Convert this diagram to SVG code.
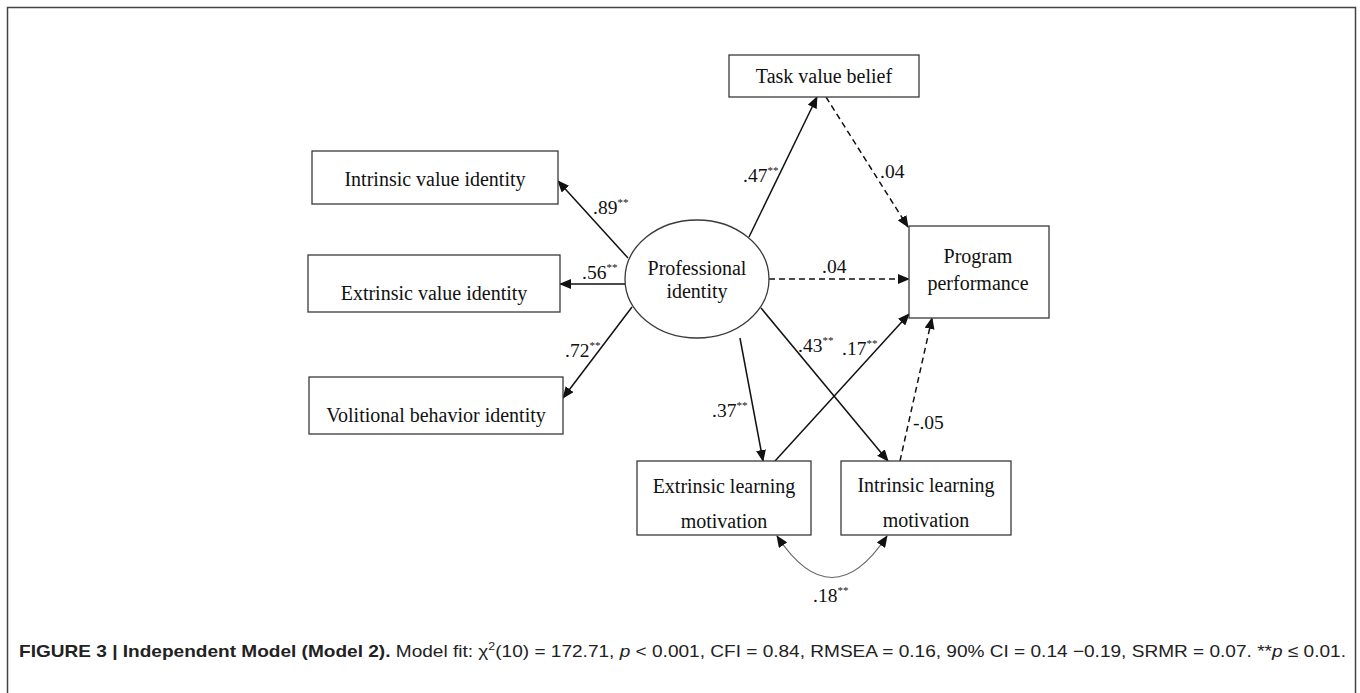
<svg xmlns="http://www.w3.org/2000/svg" width="1360" height="693" viewBox="0 0 1360 693">
<style>
.box{fill:#fff;stroke:#3a3a3a;stroke-width:1.3}
.lbl{font-family:"Liberation Serif","Times New Roman",serif;font-size:20px;fill:#111}
.num{font-family:"Liberation Serif","Times New Roman",serif;font-size:19.5px;fill:#111}
.sup{font-size:11px}
.edge{stroke:#111;stroke-width:1.5;fill:none}
.dash{stroke-dasharray:6 4}
.cap{font-family:"Liberation Sans",Arial,sans-serif;font-size:17px;fill:#222}
</style>
<defs>
<marker id="ah" markerWidth="12" markerHeight="10" refX="11" refY="5" orient="auto" markerUnits="userSpaceOnUse">
<path d="M0,0 L12,5 L0,10 z" fill="#111"/>
</marker>
<marker id="ahs" markerWidth="12" markerHeight="10" refX="1" refY="5" orient="auto" markerUnits="userSpaceOnUse">
<path d="M12,0 L0,5 L12,10 z" fill="#111"/>
</marker>
</defs>
<rect width="1360" height="693" fill="#fff"/>
<path d="M7.5,693 V7.5 H1355.5 V693" fill="none" stroke="#444" stroke-width="1.5"/>

<g id="connectors">
<line class="edge" x1="628" y1="258" x2="558" y2="181" marker-end="url(#ah)"/>
<line class="edge" x1="625" y1="284" x2="560" y2="284" marker-end="url(#ah)"/>
<line class="edge" x1="632" y1="307" x2="563" y2="398" marker-end="url(#ah)"/>
<line class="edge" x1="749" y1="237" x2="817" y2="97" marker-end="url(#ah)"/>
<line class="edge dash" x1="826" y1="97" x2="908" y2="227" marker-end="url(#ah)"/>
<line class="edge dash" x1="769" y1="279" x2="909" y2="279" marker-end="url(#ah)"/>
<line class="edge" x1="740" y1="338" x2="763" y2="461" marker-end="url(#ah)"/>
<line class="edge" x1="761" y1="308" x2="888" y2="461" marker-end="url(#ah)"/>
<line class="edge" x1="775" y1="461" x2="909" y2="314" marker-end="url(#ah)"/>
<line class="edge dash" x1="900" y1="461" x2="932" y2="318" marker-end="url(#ah)"/>
<path d="M777,536 Q832,619 887,536" fill="none" stroke="#666" stroke-width="1.2" marker-start="url(#ahs)" marker-end="url(#ah)"/>
</g>

<g id="labels">
<text class="num" x="593" y="214">.89<tspan class="sup" dy="-8">**</tspan></text>
<text class="num" x="582" y="279">.56<tspan class="sup" dy="-8">**</tspan></text>
<text class="num" x="565" y="357">.72<tspan class="sup" dy="-8">**</tspan></text>
<text class="num" x="743" y="182">.47<tspan class="sup" dy="-8">**</tspan></text>
<text class="num" x="880" y="178">.04</text>
<text class="num" x="822" y="273">.04</text>
<text class="num" x="712" y="417">.37<tspan class="sup" dy="-8">**</tspan></text>
<text class="num" x="798" y="352">.43<tspan class="sup" dy="-8">**</tspan></text>
<text class="num" x="842" y="355">.17<tspan class="sup" dy="-8">**</tspan></text>
<text class="num" x="913" y="429">-.05</text>
<text class="num" x="813" y="602">.18<tspan class="sup" dy="-8">**</tspan></text>
</g>

<g id="node-intrinsic-value">
<rect class="box" x="312" y="151" width="246" height="53"/>
<text class="lbl" x="435" y="186" text-anchor="middle">Intrinsic value identity</text>
</g>
<g id="node-extrinsic-value">
<rect class="box" x="308" y="255" width="252" height="57"/>
<text class="lbl" x="434" y="300" text-anchor="middle">Extrinsic value identity</text>
</g>
<g id="node-volitional">
<rect class="box" x="309" y="377" width="254" height="57"/>
<text class="lbl" x="436" y="422" text-anchor="middle">Volitional behavior identity</text>
</g>
<g id="node-task-value">
<rect class="box" x="729" y="55" width="190" height="42"/>
<text class="lbl" x="824" y="83" text-anchor="middle">Task value belief</text>
</g>
<g id="node-professional">
<ellipse cx="697" cy="279" rx="72" ry="59" fill="#fff" stroke="#3a3a3a" stroke-width="1.3"/>
<text class="lbl" x="697" y="275" text-anchor="middle">Professional</text>
<text class="lbl" x="697" y="298" text-anchor="middle">identity</text>
</g>
<g id="node-program">
<rect class="box" x="909" y="226" width="140" height="92"/>
<text class="lbl" x="978" y="263" text-anchor="middle">Program</text>
<text class="lbl" x="978" y="290" text-anchor="middle">performance</text>
</g>
<g id="node-extrinsic-learning">
<rect class="box" x="637" y="461" width="174" height="74"/>
<text class="lbl" x="724" y="493" text-anchor="middle">Extrinsic learning</text>
<text class="lbl" x="724" y="528" text-anchor="middle">motivation</text>
</g>
<g id="node-intrinsic-learning">
<rect class="box" x="841" y="461" width="170" height="74"/>
<text class="lbl" x="926" y="492" text-anchor="middle">Intrinsic learning</text>
<text class="lbl" x="926" y="527" text-anchor="middle">motivation</text>
</g>

<g id="caption">
<text class="cap" x="19" y="657" textLength="1327" lengthAdjust="spacingAndGlyphs"><tspan font-weight="bold">FIGURE 3 | Independent Model (Model 2).</tspan> Model fit: χ<tspan font-size="11" dy="-7">2</tspan><tspan dy="7">(10) = 172.71, </tspan><tspan font-style="italic">p</tspan> &lt; 0.001, CFI = 0.84, RMSEA = 0.16, 90% CI = 0.14 −0.19, SRMR = 0.07. **<tspan font-style="italic">p</tspan> ≤ 0.01.</text>
</g>
</svg>
